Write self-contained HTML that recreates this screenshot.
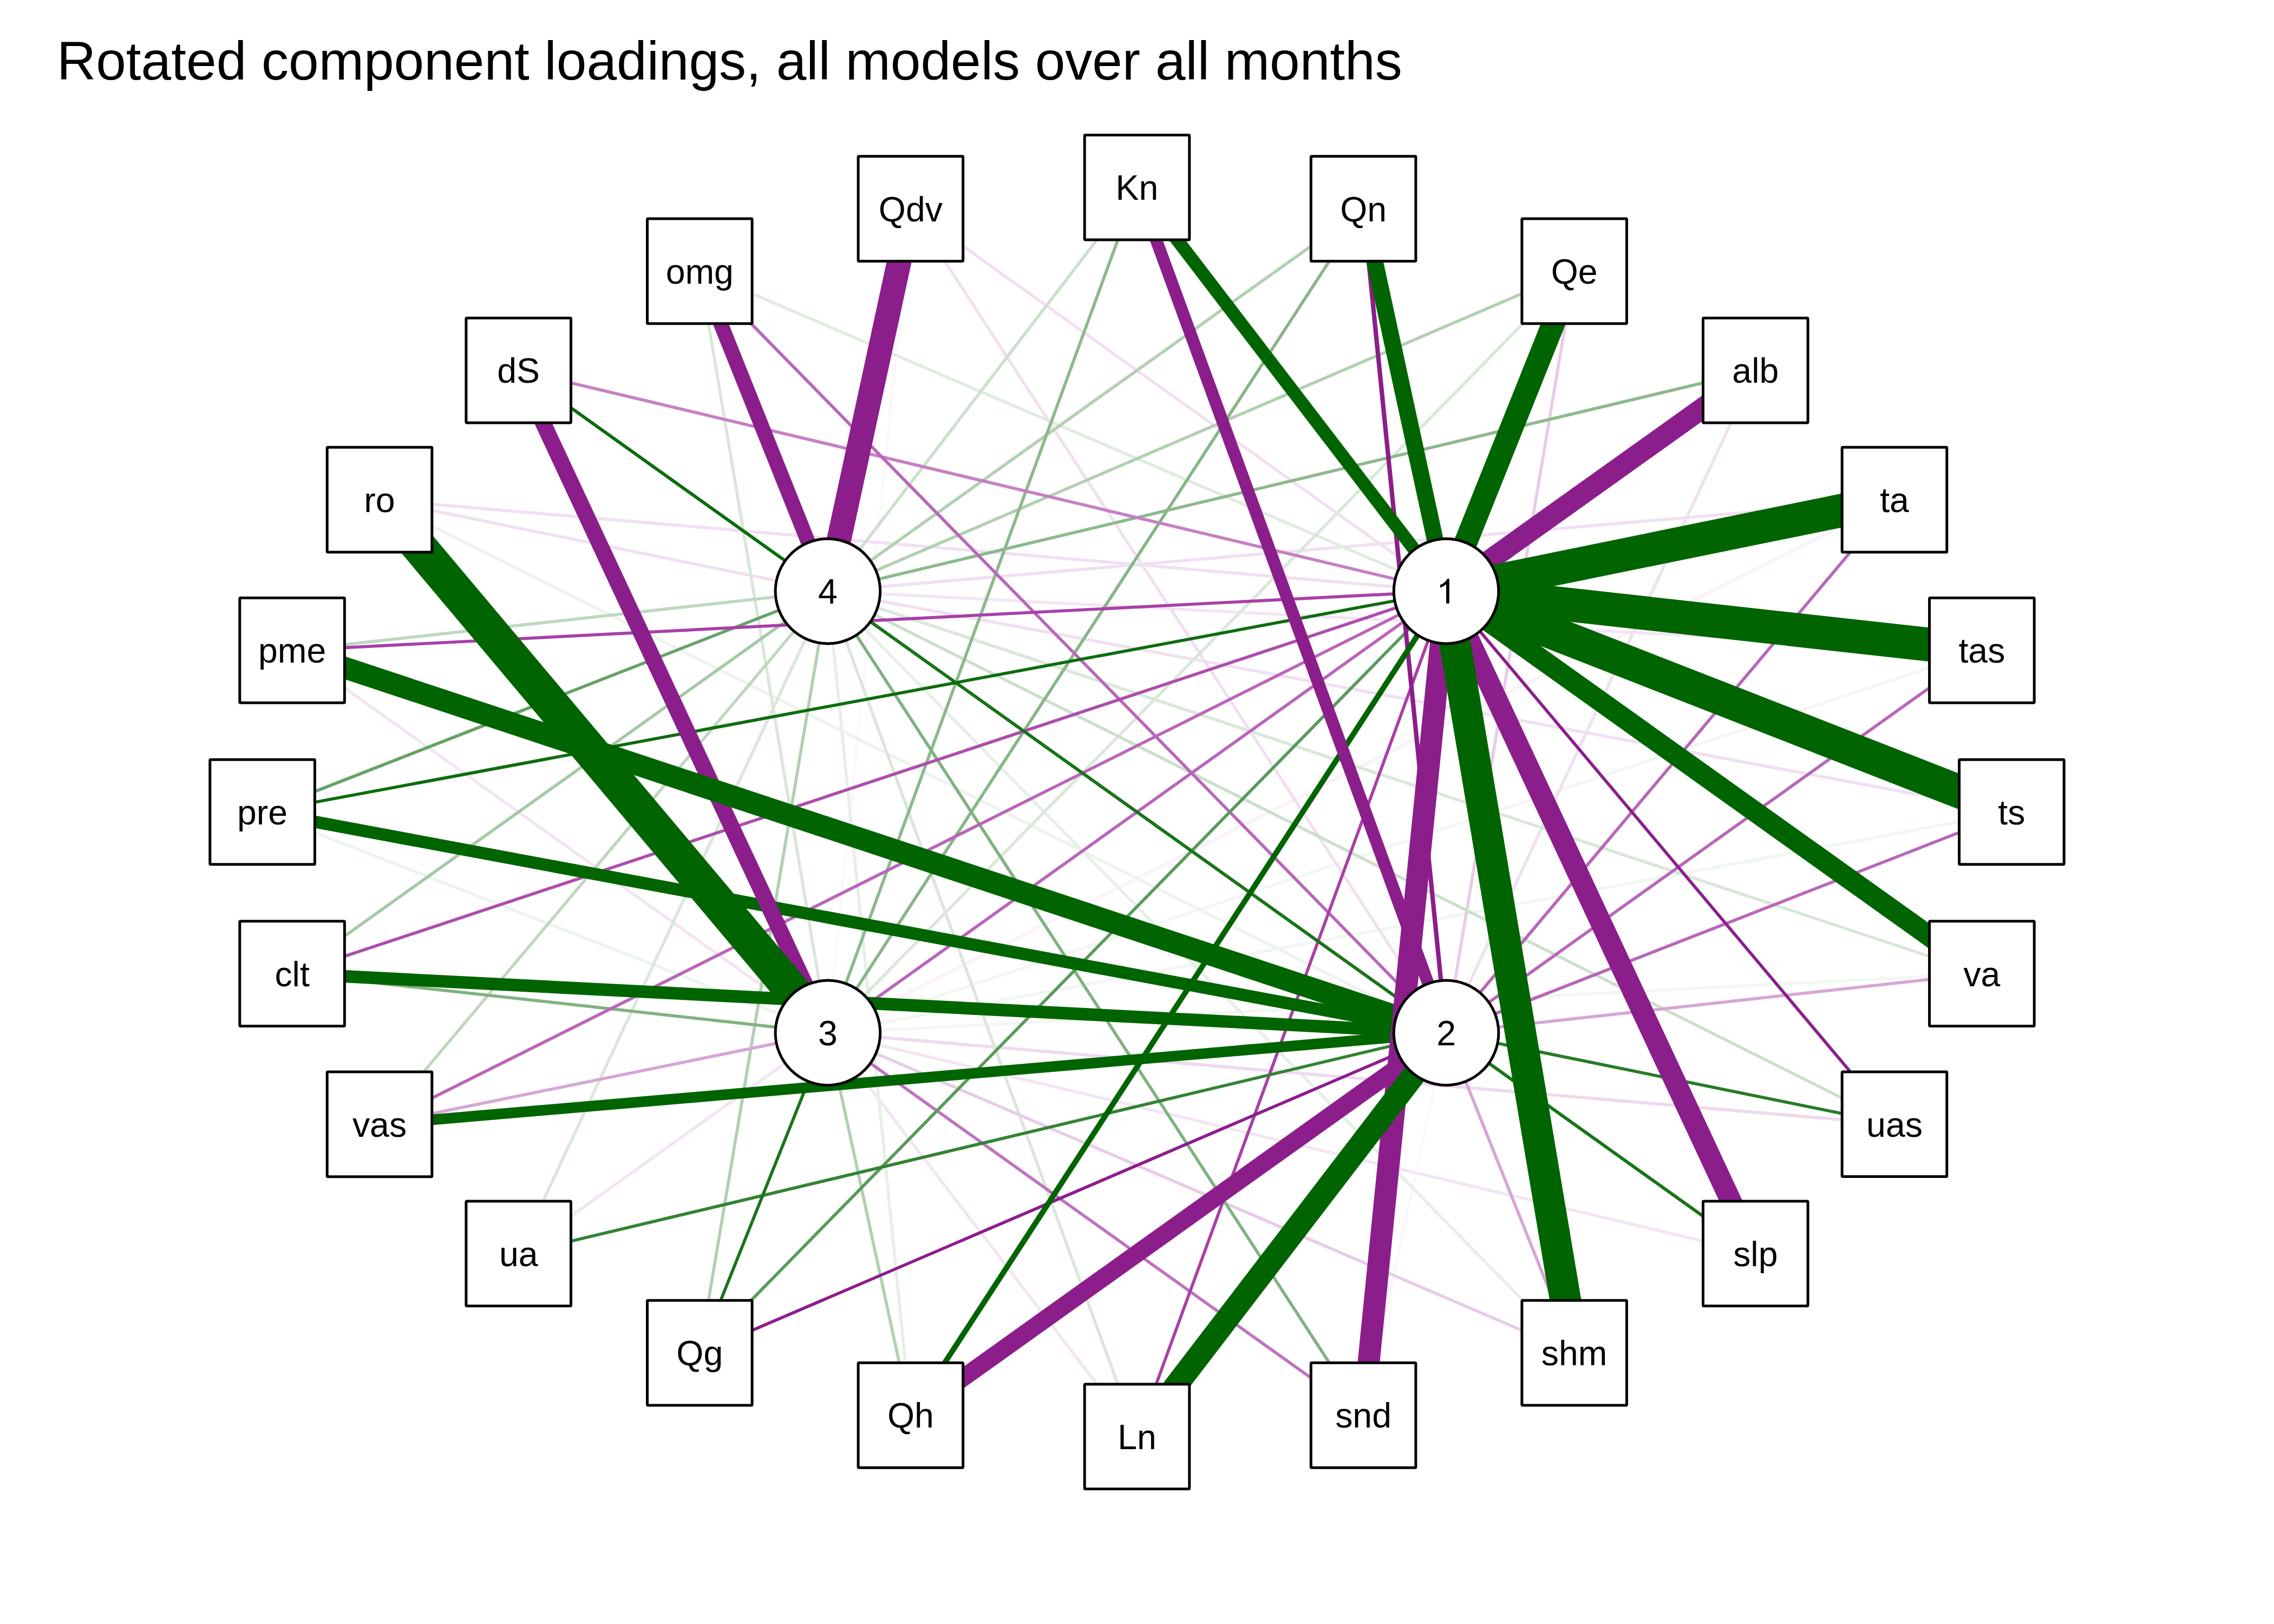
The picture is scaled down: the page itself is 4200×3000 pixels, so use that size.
<!DOCTYPE html>
<html><head><meta charset="utf-8"><style>
html,body{margin:0;padding:0;background:#fff;}
svg{display:block;}
.e line{stroke-linecap:round;}
.n rect,.n circle{fill:#fff;stroke:#000;stroke-width:5.0;stroke-linejoin:round;}
.n text{font-family:"Liberation Sans",sans-serif;font-size:64.4px;text-anchor:middle;fill:#000;}
.title{font-family:"Liberation Sans",sans-serif;font-size:100px;fill:#000;}
</style></head><body>
<svg width="4200" height="3000" viewBox="0 0 4200 3000" xmlns="http://www.w3.org/2000/svg">
<rect width="4200" height="3000" fill="#fff"/>
<text class="title" x="105" y="147">Rotated component loadings, all models over all months</text>
<g class="e">
<line x1="2671.1" y1="1907.9" x2="2518.1" y2="2614.4" stroke="#fcf7fc" stroke-width="5.7"/>
<line x1="1528.9" y1="1907.9" x2="1681.9" y2="385.6" stroke="#fcf7fc" stroke-width="5.7"/>
<line x1="1528.9" y1="1907.9" x2="3499.0" y2="923.1" stroke="#f9f2f9" stroke-width="5.7"/>
<line x1="1528.9" y1="1907.9" x2="3660.4" y2="1201.4" stroke="#f2f7f2" stroke-width="5.7"/>
<line x1="1528.9" y1="1907.9" x2="3660.4" y2="1798.6" stroke="#f2f7f2" stroke-width="5.7"/>
<line x1="1528.9" y1="1907.9" x2="3715.4" y2="1500.0" stroke="#f0f6f0" stroke-width="5.7"/>
<line x1="1528.9" y1="1907.9" x2="484.6" y2="1500.0" stroke="#edf4ed" stroke-width="5.7"/>
<line x1="2671.1" y1="1907.9" x2="701.0" y2="923.1" stroke="#edf4ed" stroke-width="5.7"/>
<line x1="1528.9" y1="1092.1" x2="3660.4" y2="1201.4" stroke="#f3e6f3" stroke-width="5.7"/>
<line x1="1528.9" y1="1907.9" x2="3242.3" y2="2315.8" stroke="#f3e6f3" stroke-width="5.7"/>
<line x1="1528.9" y1="1092.1" x2="2907.7" y2="2499.1" stroke="#e6f0e6" stroke-width="5.7"/>
<line x1="1528.9" y1="1907.9" x2="2100.0" y2="2653.7" stroke="#f3e6f3" stroke-width="5.7"/>
<line x1="1528.9" y1="1092.1" x2="1681.9" y2="2614.4" stroke="#e6f0e6" stroke-width="5.7"/>
<line x1="2671.1" y1="1092.1" x2="957.7" y2="2315.8" stroke="#f3e6f3" stroke-width="5.7"/>
<line x1="1528.9" y1="1907.9" x2="957.7" y2="2315.8" stroke="#f3e6f3" stroke-width="5.7"/>
<line x1="1528.9" y1="1907.9" x2="539.6" y2="1201.4" stroke="#f3e6f3" stroke-width="5.7"/>
<line x1="2671.1" y1="1907.9" x2="3242.3" y2="684.2" stroke="#f1e0f1" stroke-width="5.7"/>
<line x1="1528.9" y1="1092.1" x2="3499.0" y2="923.1" stroke="#f1e0f1" stroke-width="5.7"/>
<line x1="1528.9" y1="1092.1" x2="3715.4" y2="1500.0" stroke="#f1e0f1" stroke-width="5.7"/>
<line x1="2671.1" y1="1092.1" x2="701.0" y2="923.1" stroke="#f1e0f1" stroke-width="5.7"/>
<line x1="1528.9" y1="1092.1" x2="701.0" y2="923.1" stroke="#f1e0f1" stroke-width="5.7"/>
<line x1="2671.1" y1="1092.1" x2="1292.3" y2="500.9" stroke="#e0ece0" stroke-width="5.7"/>
<line x1="2671.1" y1="1092.1" x2="1681.9" y2="385.6" stroke="#f1e0f1" stroke-width="5.7"/>
<line x1="2671.1" y1="1907.9" x2="1681.9" y2="385.6" stroke="#f1e0f1" stroke-width="5.7"/>
<line x1="1528.9" y1="1907.9" x2="2907.7" y2="500.9" stroke="#d9e8d9" stroke-width="5.7"/>
<line x1="1528.9" y1="1092.1" x2="3660.4" y2="1798.6" stroke="#d9e8d9" stroke-width="5.7"/>
<line x1="1528.9" y1="1907.9" x2="3499.0" y2="2076.8" stroke="#eed9ee" stroke-width="5.7"/>
<line x1="1528.9" y1="1092.1" x2="2100.0" y2="2653.7" stroke="#d9e8d9" stroke-width="5.7"/>
<line x1="1528.9" y1="1092.1" x2="957.7" y2="2315.8" stroke="#d9e8d9" stroke-width="5.7"/>
<line x1="1528.9" y1="1907.9" x2="1292.3" y2="500.9" stroke="#d9e8d9" stroke-width="5.7"/>
<line x1="1528.9" y1="1092.1" x2="2100.0" y2="346.3" stroke="#cce0cc" stroke-width="5.7"/>
<line x1="2671.1" y1="1907.9" x2="2907.7" y2="500.9" stroke="#e8cce8" stroke-width="5.7"/>
<line x1="1528.9" y1="1092.1" x2="3499.0" y2="2076.8" stroke="#cce0cc" stroke-width="5.7"/>
<line x1="1528.9" y1="1907.9" x2="2907.7" y2="2499.1" stroke="#e8cce8" stroke-width="5.7"/>
<line x1="1528.9" y1="1092.1" x2="701.0" y2="2076.9" stroke="#bfd8bf" stroke-width="5.7"/>
<line x1="1528.9" y1="1092.1" x2="539.6" y2="1201.4" stroke="#bfd8bf" stroke-width="5.7"/>
<line x1="1528.9" y1="1092.1" x2="2518.1" y2="385.6" stroke="#b2d0b2" stroke-width="5.7"/>
<line x1="1528.9" y1="1092.1" x2="2907.7" y2="500.9" stroke="#b2d0b2" stroke-width="5.7"/>
<line x1="1528.9" y1="1907.9" x2="1681.9" y2="2614.4" stroke="#b2d0b2" stroke-width="5.7"/>
<line x1="1528.9" y1="1092.1" x2="1292.3" y2="2499.1" stroke="#b2d0b2" stroke-width="5.7"/>
<line x1="2671.1" y1="1907.9" x2="3660.4" y2="1798.6" stroke="#d6a6d6" stroke-width="5.7"/>
<line x1="2671.1" y1="1907.9" x2="2907.7" y2="2499.1" stroke="#d6a6d6" stroke-width="5.7"/>
<line x1="1528.9" y1="1907.9" x2="701.0" y2="2076.9" stroke="#d6a6d6" stroke-width="5.7"/>
<line x1="1528.9" y1="1092.1" x2="539.6" y2="1798.6" stroke="#a6c9a6" stroke-width="5.7"/>
<line x1="1528.9" y1="1907.9" x2="2100.0" y2="346.3" stroke="#8cb98c" stroke-width="5.7"/>
<line x1="1528.9" y1="1092.1" x2="3242.3" y2="684.2" stroke="#8cb98c" stroke-width="5.7"/>
<line x1="1528.9" y1="1907.9" x2="2518.1" y2="385.6" stroke="#87b687" stroke-width="5.7"/>
<line x1="1528.9" y1="1092.1" x2="2518.1" y2="2614.4" stroke="#80b280" stroke-width="5.7"/>
<line x1="1528.9" y1="1907.9" x2="539.6" y2="1798.6" stroke="#80b280" stroke-width="5.7"/>
<line x1="2671.1" y1="1092.1" x2="957.7" y2="684.2" stroke="#c580c5" stroke-width="5.7"/>
<line x1="1528.9" y1="1907.9" x2="2518.1" y2="2614.4" stroke="#bf73bf" stroke-width="5.7"/>
<line x1="1528.9" y1="1907.9" x2="3242.3" y2="684.2" stroke="#b966b9" stroke-width="5.7"/>
<line x1="2671.1" y1="1907.9" x2="3499.0" y2="923.1" stroke="#b966b9" stroke-width="5.7"/>
<line x1="2671.1" y1="1907.9" x2="3660.4" y2="1201.4" stroke="#b966b9" stroke-width="5.7"/>
<line x1="2671.1" y1="1907.9" x2="3715.4" y2="1500.0" stroke="#b966b9" stroke-width="5.7"/>
<line x1="2671.1" y1="1092.1" x2="701.0" y2="2076.9" stroke="#b966b9" stroke-width="5.7"/>
<line x1="1528.9" y1="1092.1" x2="484.6" y2="1500.0" stroke="#66a266" stroke-width="5.7"/>
<line x1="2671.1" y1="1907.9" x2="1292.3" y2="500.9" stroke="#b966b9" stroke-width="5.7"/>
<line x1="2671.1" y1="1092.1" x2="1292.3" y2="2499.1" stroke="#599a59" stroke-width="5.7"/>
<line x1="2671.1" y1="1092.1" x2="539.6" y2="1798.6" stroke="#ae4dae" stroke-width="5.7"/>
<line x1="2671.1" y1="1092.1" x2="2100.0" y2="2653.7" stroke="#a840a8" stroke-width="5.7"/>
<line x1="2671.1" y1="1092.1" x2="539.6" y2="1201.4" stroke="#a840a8" stroke-width="5.7"/>
<line x1="2671.1" y1="1907.9" x2="957.7" y2="2315.8" stroke="#338333" stroke-width="5.7"/>
<line x1="2671.1" y1="1907.9" x2="3499.0" y2="2076.8" stroke="#267b26" stroke-width="5.7"/>
<line x1="2671.1" y1="1907.9" x2="3242.3" y2="2315.8" stroke="#267b26" stroke-width="5.7"/>
<line x1="1528.9" y1="1092.1" x2="3242.3" y2="2315.8" stroke="#197419" stroke-width="5.7"/>
<line x1="1528.9" y1="1907.9" x2="1292.3" y2="2499.1" stroke="#197419" stroke-width="5.7"/>
<line x1="2671.1" y1="1907.9" x2="957.7" y2="684.2" stroke="#197419" stroke-width="5.7"/>
<line x1="2671.1" y1="1092.1" x2="484.6" y2="1500.0" stroke="#0d6c0d" stroke-width="5.7"/>
<line x1="1528.9" y1="1092.1" x2="957.7" y2="684.2" stroke="#0d6c0d" stroke-width="5.7"/>
<line x1="2671.1" y1="1092.1" x2="3499.0" y2="2076.8" stroke="#8b1e8b" stroke-width="5.7"/>
<line x1="2671.1" y1="1907.9" x2="1292.3" y2="2499.1" stroke="#8b1e8b" stroke-width="5.7"/>
<line x1="2671.1" y1="1907.9" x2="2518.1" y2="385.6" stroke="#8b1e8b" stroke-width="8.2"/>
<line x1="2671.1" y1="1092.1" x2="1681.9" y2="2614.4" stroke="#006400" stroke-width="10.2"/>
<line x1="2671.1" y1="1907.9" x2="701.0" y2="2076.9" stroke="#006400" stroke-width="19.6"/>
<line x1="2671.1" y1="1907.9" x2="2100.0" y2="346.3" stroke="#8b1e8b" stroke-width="22.6"/>
<line x1="2671.1" y1="1907.9" x2="484.6" y2="1500.0" stroke="#006400" stroke-width="22.8"/>
<line x1="2671.1" y1="1907.9" x2="539.6" y2="1798.6" stroke="#006400" stroke-width="23.2"/>
<line x1="2671.1" y1="1092.1" x2="2100.0" y2="346.3" stroke="#006400" stroke-width="24.1"/>
<line x1="1528.9" y1="1092.1" x2="1292.3" y2="500.9" stroke="#8b1e8b" stroke-width="27.3"/>
<line x1="1528.9" y1="1907.9" x2="957.7" y2="684.2" stroke="#8b1e8b" stroke-width="29.7"/>
<line x1="2671.1" y1="1092.1" x2="2518.1" y2="385.6" stroke="#006400" stroke-width="30.7"/>
<line x1="2671.1" y1="1907.9" x2="1681.9" y2="2614.4" stroke="#8b1e8b" stroke-width="32.7"/>
<line x1="2671.1" y1="1092.1" x2="3660.4" y2="1798.6" stroke="#006400" stroke-width="38.0"/>
<line x1="2671.1" y1="1092.1" x2="3242.3" y2="684.2" stroke="#8b1e8b" stroke-width="38.7"/>
<line x1="2671.1" y1="1092.1" x2="3242.3" y2="2315.8" stroke="#8b1e8b" stroke-width="39.2"/>
<line x1="2671.1" y1="1907.9" x2="539.6" y2="1201.4" stroke="#006400" stroke-width="40.2"/>
<line x1="2671.1" y1="1092.1" x2="2518.1" y2="2614.4" stroke="#8b1e8b" stroke-width="40.7"/>
<line x1="2671.1" y1="1092.1" x2="2907.7" y2="500.9" stroke="#006400" stroke-width="42.8"/>
<line x1="2671.1" y1="1907.9" x2="2100.0" y2="2653.7" stroke="#006400" stroke-width="43.2"/>
<line x1="1528.9" y1="1092.1" x2="1681.9" y2="385.6" stroke="#8b1e8b" stroke-width="45.1"/>
<line x1="2671.1" y1="1092.1" x2="2907.7" y2="2499.1" stroke="#006400" stroke-width="57.7"/>
<line x1="2671.1" y1="1092.1" x2="3499.0" y2="923.1" stroke="#006400" stroke-width="61.4"/>
<line x1="2671.1" y1="1092.1" x2="3715.4" y2="1500.0" stroke="#006400" stroke-width="61.8"/>
<line x1="2671.1" y1="1092.1" x2="3660.4" y2="1201.4" stroke="#006400" stroke-width="62.3"/>
<line x1="1528.9" y1="1907.9" x2="701.0" y2="923.1" stroke="#006400" stroke-width="65.0"/>
</g>
<g class="n">
<rect x="2003.2" y="249.5" width="193.6" height="193.6" rx="1.5"/>
<text x="2100.0" y="369.3">Kn</text>
<rect x="2421.3" y="288.8" width="193.6" height="193.6" rx="1.5"/>
<text x="2518.1" y="408.6">Qn</text>
<rect x="2810.9" y="404.1" width="193.6" height="193.6" rx="1.5"/>
<text x="2907.7" y="523.9">Qe</text>
<rect x="3145.5" y="587.4" width="193.6" height="193.6" rx="1.5"/>
<text x="3242.3" y="707.2">alb</text>
<rect x="3402.2" y="826.3" width="193.6" height="193.6" rx="1.5"/>
<text x="3499.0" y="946.1">ta</text>
<rect x="3563.6" y="1104.6" width="193.6" height="193.6" rx="1.5"/>
<text x="3660.4" y="1224.4">tas</text>
<rect x="3618.6" y="1403.2" width="193.6" height="193.6" rx="1.5"/>
<text x="3715.4" y="1523.0">ts</text>
<rect x="3563.6" y="1701.8" width="193.6" height="193.6" rx="1.5"/>
<text x="3660.4" y="1821.6">va</text>
<rect x="3402.2" y="1980.0" width="193.6" height="193.6" rx="1.5"/>
<text x="3499.0" y="2099.8">uas</text>
<rect x="3145.5" y="2219.0" width="193.6" height="193.6" rx="1.5"/>
<text x="3242.3" y="2338.8">slp</text>
<rect x="2810.9" y="2402.3" width="193.6" height="193.6" rx="1.5"/>
<text x="2907.7" y="2522.1">shm</text>
<rect x="2421.3" y="2517.6" width="193.6" height="193.6" rx="1.5"/>
<text x="2518.1" y="2637.4">snd</text>
<rect x="2003.2" y="2556.9" width="193.6" height="193.6" rx="1.5"/>
<text x="2100.0" y="2676.7">Ln</text>
<rect x="1585.1" y="2517.6" width="193.6" height="193.6" rx="1.5"/>
<text x="1681.9" y="2637.4">Qh</text>
<rect x="1195.5" y="2402.3" width="193.6" height="193.6" rx="1.5"/>
<text x="1292.3" y="2522.1">Qg</text>
<rect x="860.9" y="2219.0" width="193.6" height="193.6" rx="1.5"/>
<text x="957.7" y="2338.8">ua</text>
<rect x="604.2" y="1980.1" width="193.6" height="193.6" rx="1.5"/>
<text x="701.0" y="2099.9">vas</text>
<rect x="442.8" y="1701.8" width="193.6" height="193.6" rx="1.5"/>
<text x="539.6" y="1821.6">clt</text>
<rect x="387.8" y="1403.2" width="193.6" height="193.6" rx="1.5"/>
<text x="484.6" y="1523.0">pre</text>
<rect x="442.8" y="1104.6" width="193.6" height="193.6" rx="1.5"/>
<text x="539.6" y="1224.4">pme</text>
<rect x="604.2" y="826.3" width="193.6" height="193.6" rx="1.5"/>
<text x="701.0" y="946.1">ro</text>
<rect x="860.9" y="587.4" width="193.6" height="193.6" rx="1.5"/>
<text x="957.7" y="707.2">dS</text>
<rect x="1195.5" y="404.1" width="193.6" height="193.6" rx="1.5"/>
<text x="1292.3" y="523.9">omg</text>
<rect x="1585.1" y="288.8" width="193.6" height="193.6" rx="1.5"/>
<text x="1681.9" y="408.6">Qdv</text>
<circle cx="2671.1" cy="1092.1" r="96.8"/>
<path d="M2671.00,1114.81 L2676.80,1114.81 L2676.80,1069.21 L2673.20,1069.21 Q2668.13,1077.91 2660.00,1080.21 L2660.00,1085.81 Q2666.63,1083.51 2671.00,1079.21 Z" fill="#000"/>
<circle cx="2671.1" cy="1907.9" r="96.8"/>
<text x="2671.1" y="1930.9">2</text>
<circle cx="1528.9" cy="1907.9" r="96.8"/>
<text x="1528.9" y="1930.9">3</text>
<circle cx="1528.9" cy="1092.1" r="96.8"/>
<text x="1528.9" y="1115.1">4</text>
</g>
</svg>
</body></html>
